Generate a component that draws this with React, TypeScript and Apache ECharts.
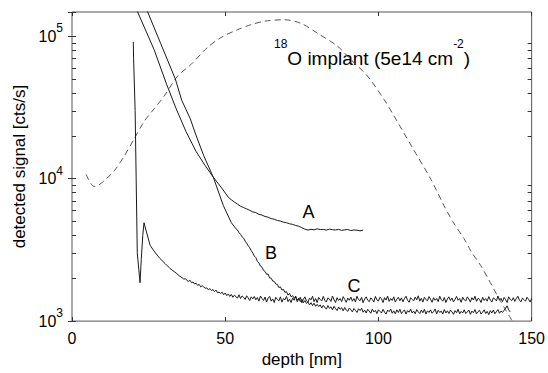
import React, { useEffect, useRef } from "react";
import * as echarts from "echarts";

// ---------- data (depth in nm, signal in cts/s) ----------
// 18O implant profile (dashed)
const implantDepth = [4.6, 5.5, 6.7, 7.5, 8.4, 10.5, 13.8, 17.1, 20.3, 23.5, 26.8, 30.1, 34.5, 38.8, 44.2, 48.6, 54.0, 58.4, 63.0, 69.2, 74.7, 80.1, 86.6, 91.0, 96.4, 101.8, 105.1, 111.0, 117.1, 121.4, 124.5, 127.9, 130.5, 133.4, 136.0, 138.8, 141.5, 143.7];
const implantSignal = [10700, 9770, 8910, 8810, 8910, 9660, 11350, 14450, 19050, 25100, 30900, 38000, 52500, 63100, 83200, 97700, 110900, 120200, 127400, 130300, 123000, 104700, 85100, 68400, 52500, 36000, 27500, 16600, 9900, 6460, 4900, 3800, 3020, 2450, 1950, 1510, 1200, 1000];

// Curve A: steep head, then tail sampled every 1 nm from 52 to 95
const aHeadDepth = [21.1, 26.8, 30.9, 34.0, 37.2, 40.5, 43.5, 46.1, 49.0, 51.0];
const aHeadSignal = [153000, 80350, 45700, 30900, 21380, 15490, 12300, 10230, 8510, 7400];
const aTailStart = 52;
const aTailStep = 1;
const aTailSignal = [7100, 6850, 6620, 6400, 6260, 6130, 5990, 5840, 5770, 5610, 5550, 5420, 5360, 5240, 5190, 5080, 5040, 4950, 4900, 4820, 4770, 4690, 4630, 4520, 4420, 4350, 4410, 4370, 4440, 4390, 4400, 4350, 4420, 4380, 4360, 4400, 4330, 4370, 4390, 4320, 4360, 4340, 4300, 4350];

// Curve B: steep head, then noisy tail sampled every 0.5 nm from 53 to 143
const bHeadDepth = [24.4, 28.9, 33.7, 35.8, 38.6, 40.2, 43.0, 46.1, 49.4, 52.0];
const bHeadSignal = [153000, 89130, 50120, 35480, 26300, 20890, 14450, 10230, 6460, 4900];
const bTailStart = 53;
const bTailStep = 0.5;
const bTailSignal = [
  4600, 4450, 4360, 4180, 4060, 3900, 3820, 3640,
  3520, 3380, 3270, 3120, 3010, 2860, 2790, 2620,
  2560, 2430, 2390, 2270, 2230, 2130, 2140, 2010,
  2000, 1910, 1900, 1820, 1810, 1720, 1740, 1650,
  1670, 1590, 1610, 1520, 1565, 1480, 1510, 1450,
  1475, 1400, 1450, 1370, 1420, 1345, 1395, 1330,
  1360, 1300, 1345, 1285, 1335, 1270, 1310, 1265,
  1300, 1235, 1290, 1250, 1215, 1285, 1230, 1260,
  1200, 1270, 1225, 1185, 1255, 1210, 1240, 1180,
  1245, 1195, 1170, 1235, 1200, 1160, 1225, 1190,
  1150, 1220, 1185, 1230, 1155, 1195, 1140, 1210,
  1175, 1135, 1215, 1160, 1190, 1130, 1200, 1170,
  1140, 1210, 1155, 1120, 1195, 1165, 1215, 1135,
  1180, 1125, 1200, 1150, 1210, 1130, 1170, 1195,
  1120, 1185, 1155, 1215, 1140, 1175, 1125, 1205,
  1160, 1130, 1195, 1145, 1210, 1120, 1180, 1150,
  1200, 1135, 1165, 1215, 1125, 1190, 1150, 1175,
  1120, 1205, 1140, 1180, 1130, 1195, 1160, 1115,
  1185, 1145, 1210, 1125, 1170, 1140, 1200, 1130,
  1160, 1195, 1115, 1175, 1145, 1205, 1125, 1165,
  1190, 1120, 1155, 1200, 1130, 1170, 1110, 1185,
  1140, 1195, 1125, 1165, 1205, 1135, 1175, 1150,
  1190, 1230, 1280, 1200, 1160,
];

// Curve C: spike, dip, peak, then noisy tail sampled every 0.5 nm from 36 to 150
const cHeadDepth = [20.0, 20.1, 20.6, 21.3, 21.8, 22.2, 22.6, 23.1, 23.5, 24.2, 25.5, 27.0, 28.7, 30.5, 32.0, 34.0, 35.0];
const cHeadSignal = [91000, 70000, 30000, 3020, 2300, 1860, 2700, 4000, 4900, 4300, 3400, 3050, 2750, 2520, 2340, 2170, 2080];
const cTailStart = 36;
const cTailStep = 0.5;
const cTailSignal = [
  2010, 1970, 1985, 1930, 1900, 1935, 1860, 1880,
  1820, 1845, 1780, 1810, 1740, 1770, 1735, 1700,
  1710, 1660, 1690, 1640, 1665, 1610, 1650, 1580,
  1600, 1560, 1595, 1530, 1575, 1510, 1550, 1490,
  1540, 1470, 1520, 1485, 1450, 1530, 1440, 1500,
  1470, 1420, 1505, 1455, 1395, 1480, 1430, 1490,
  1410, 1465, 1380, 1500, 1440, 1395, 1475, 1360,
  1450, 1490, 1380, 1430, 1350, 1470, 1420, 1385,
  1480, 1360, 1440, 1410, 1490, 1370, 1425, 1350,
  1455, 1400, 1500, 1365, 1430, 1470, 1345, 1420,
  1480, 1390, 1360, 1450, 1410, 1495, 1370, 1440,
  1350, 1465, 1420, 1385, 1490, 1400, 1360, 1455,
  1430, 1375, 1500, 1410, 1350, 1460, 1395, 1440,
  1370, 1485, 1420, 1355, 1450, 1400, 1475, 1380,
  1440, 1360, 1495, 1415, 1390, 1465, 1345, 1430,
  1480, 1400, 1370, 1455, 1420, 1360, 1490, 1410,
  1385, 1470, 1435, 1350, 1460, 1405, 1500, 1375,
  1440, 1395, 1480, 1360, 1425, 1470, 1390, 1455,
  1365, 1440, 1495, 1400, 1355, 1460, 1420, 1385,
  1475, 1410, 1505, 1380, 1445, 1360, 1470, 1415,
  1390, 1485, 1425, 1355, 1460, 1400, 1440, 1370,
  1495, 1415, 1380, 1465, 1350, 1430, 1480, 1395,
  1450, 1365, 1420, 1490, 1400, 1440, 1355, 1470,
  1410, 1385, 1480, 1430, 1360, 1460, 1405, 1495,
  1375, 1445, 1420, 1350, 1470, 1395, 1440, 1380,
  1485, 1410, 1360, 1455, 1430, 1385, 1500, 1400,
  1445, 1370, 1465, 1415, 1350, 1480, 1420, 1390,
  1460, 1375, 1440, 1495, 1405, 1365, 1450, 1415,
  1380, 1470, 1420, 1360, 1445,
];

// axis ranges / ticks
const xMin = 0;
const xMax = 150;
const yMin = 1000;
const yMax = 147600;
const minorTickValues = [2000, 3000, 4000, 5000, 6000, 7000, 8000, 9000, 20000, 30000, 40000, 50000, 60000, 70000, 80000, 90000];

// annotation texts
const curveLabels = [
  { text: "A", x: 308.5, y: 211.5 },
  { text: "B", x: 271, y: 253 },
  { text: "C", x: 354, y: 286 },
];

const FONT = "'Liberation Sans', Arial, Helvetica, sans-serif";

function pairs(xs: number[], ys: number[]) {
  return xs.map((x, i) => [x, ys[i]]);
}
function tail(start: number, step: number, ys: number[]) {
  return ys.map((y, i) => [start + i * step, y]);
}

export default function App() {
  const ref = useRef<HTMLDivElement>(null);

  useEffect(() => {
    if (!ref.current) return;
    const chart = echarts.init(ref.current, null, { renderer: "svg" });

    const frameColor = "#555";
    const tickColor = "#333";
    const lineColor = "#1a1a1a";

    const supLabel = (v: number) => {
      const e = Math.log10(v);
      const r = Math.round(e);
      if (Math.abs(e - r) > 0.01) return "";
      return `{b|10}{s|${r}}`;
    };

    const yAxisBase = {
      type: "log",
      logBase: 10,
      min: yMin,
      max: yMax,
      splitLine: { show: false },
      axisLine: { show: false },
      axisTick: { show: true, inside: true, length: 4, lineStyle: { color: tickColor } },
      minorTick: { show: false },
    };

    const xAxisBase = {
      type: "value",
      min: xMin,
      max: xMax,
      interval: 50,
      splitLine: { show: false },
      axisLine: { show: false },
      axisTick: { show: true, inside: true, length: 4, lineStyle: { color: tickColor } },
    };

    const tickSeries = (side: "left" | "right") => ({
      type: "custom",
      name: "minorTicks-" + side,
      silent: true,
      clip: false,
      z: 5,
      data: minorTickValues.map((v) => [side === "left" ? xMin : xMax, v]),
      encode: { x: 0, y: 1 },
      renderItem: (_params: any, api: any) => {
        const p = api.coord([api.value(0), api.value(1)]);
        const y = Math.round(p[1]) + 0.5;
        const x1 = side === "left" ? p[0] : p[0] - 4;
        const x2 = side === "left" ? p[0] + 4 : p[0];
        return {
          type: "line",
          shape: { x1, y1: y, x2, y2: y },
          style: { stroke: tickColor, lineWidth: 1 },
        };
      },
    });

    const option: any = {
      animation: false,
      backgroundColor: "#fff",
      grid: {
        left: 72, right: 16, top: 12, bottom: 50, containLabel: false,
        show: true, borderColor: frameColor, borderWidth: 1, backgroundColor: "transparent",
      },
      xAxis: [
        {
          ...xAxisBase,
          position: "bottom",
          name: "depth [nm]",
          nameLocation: "middle",
          nameGap: 27,
          nameTextStyle: { fontFamily: FONT, fontSize: 17, color: "#000" },
          axisLabel: { fontFamily: FONT, fontSize: 16, color: "#000", margin: 9 },
        },
        {
          ...xAxisBase,
          position: "top",
          axisLabel: { show: false },
        },
      ],
      yAxis: [
        {
          ...yAxisBase,
          position: "left",
          name: "detected signal [cts/s]",
          nameLocation: "middle",
          nameGap: 44,
          nameTextStyle: { fontFamily: FONT, fontSize: 17, color: "#000" },
          axisLabel: {
            fontFamily: FONT,
            color: "#000",
            margin: 9,
            formatter: supLabel,
            rich: {
              b: { fontFamily: FONT, fontSize: 16, lineHeight: 28, color: "#000" },
              s: { fontFamily: FONT, fontSize: 12, lineHeight: 11, verticalAlign: "top", color: "#000" },
            },
          },
        },
        {
          ...yAxisBase,
          position: "right",
          axisLabel: { show: false },
        },
      ],
      series: [
        {
          type: "line",
          name: "implant",
          data: pairs(implantDepth, implantSignal),
          showSymbol: false,
          smooth: 0.3,
          lineStyle: { color: "#555", width: 1, type: [6, 4] },
          silent: true,
        },
        {
          type: "line",
          name: "A",
          data: [...pairs(aHeadDepth, aHeadSignal), ...tail(aTailStart, aTailStep, aTailSignal)],
          showSymbol: false,
          lineStyle: { color: lineColor, width: 1 },
          silent: true,
        },
        {
          type: "line",
          name: "B",
          data: [...pairs(bHeadDepth, bHeadSignal), ...tail(bTailStart, bTailStep, bTailSignal)],
          showSymbol: false,
          lineStyle: { color: lineColor, width: 1 },
          silent: true,
        },
        {
          type: "line",
          name: "C",
          data: [...pairs(cHeadDepth, cHeadSignal), ...tail(cTailStart, cTailStep, cTailSignal)],
          showSymbol: false,
          lineStyle: { color: lineColor, width: 1 },
          silent: true,
        },
        tickSeries("left"),
        tickSeries("right"),
      ],
      graphic: [
        ...curveLabels.map((l) => ({
          type: "text",
          x: l.x,
          y: l.y,
          silent: true,
          style: {
            text: l.text,
            fontFamily: FONT,
            fontSize: 18,
            fill: "#000",
            align: "center",
            verticalAlign: "middle",
          },
        })),
        {
          type: "text",
          x: 274,
          y: 58,
          silent: true,
          style: {
            text: "{s|18}{b|O implant (5e14 cm}{s|-2}{b|)}",
            fontFamily: FONT,
            fill: "#000",
            align: "left",
            verticalAlign: "middle",
            rich: {
              b: { fontFamily: FONT, fontSize: 19, lineHeight: 40, fill: "#000" },
              s: { fontFamily: FONT, fontSize: 12, lineHeight: 12, verticalAlign: "top", fill: "#000" },
            },
          },
        },
      ],
    };

    chart.setOption(option);
    return () => chart.dispose();
  }, []);

  return (
    <div
      ref={ref}
      style={{ position: "absolute", left: 0, top: 0, width: 548, height: 373, background: "#fff" }}
    />
  );
}
